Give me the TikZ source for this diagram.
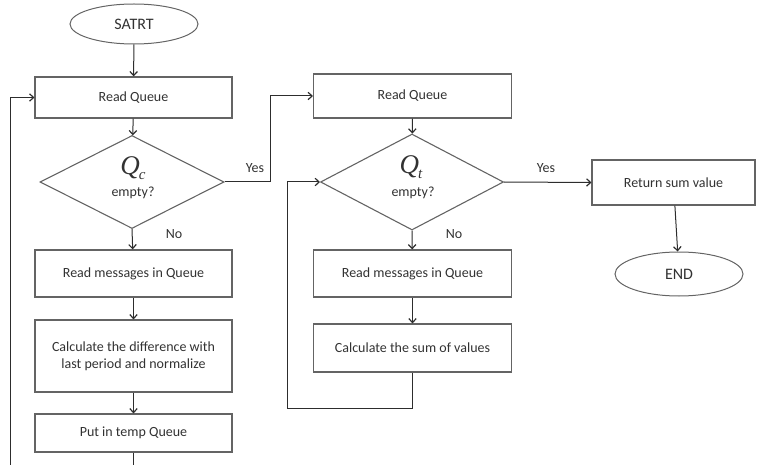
\documentclass[tikz,border=0pt]{standalone}
\usepackage{fontspec}
\setmainfont{Carlito}
\newfontfamily\qserif{Liberation Serif}
\usetikzlibrary{shapes.geometric,arrows.meta}
\definecolor{ink}{RGB}{50,50,50}
\definecolor{frame}{RGB}{100,100,100}
\definecolor{wire}{RGB}{45,45,45}
\newcommand{\qname}[1]{{\qserif\itshape Q\kern-1pt\raisebox{-5pt}{\fontsize{15}{15}\selectfont #1}}}
\begin{document}
\begin{tikzpicture}[x=1pt,y=-1pt,
  txt/.style={font=\fontsize{14}{17}\selectfont, text=ink},
  box/.style={draw=frame, line width=1.2pt, rectangle, inner sep=0pt, align=center, txt},
  term/.style={draw=frame, line width=1pt, ellipse, inner sep=0pt, txt, font=\fontsize{16}{19}\selectfont},
  decide/.style={draw=frame, line width=1.1pt, diamond, inner sep=0pt},
  flow/.style={draw=wire, line width=1pt, -{Straight Barb[length=4pt,width=7.5pt,line width=1.2pt]}},
  plain/.style={draw=wire, line width=1pt},
  qsym/.style={font=\fontsize{27}{28}\selectfont, text=ink},
  tag/.style={txt}
]
\useasboundingbox (0,0) rectangle (757,465);

% left column
\node[term, minimum width=128pt, minimum height=40pt] (start) at (134,24) {SATRT};
\node[box, minimum width=197pt, minimum height=41pt] (rq1) at (133.5,97.5) {Read Queue};
\node[decide, minimum width=184pt, minimum height=93pt] (qc) at (132,182) {};
\node[qsym] (qcq) at (133,168) {\qname{c}};
\node[tag] (qce) at (133,193) {empty?};
\node[box, minimum width=197pt, minimum height=47pt] (rm1) at (133.5,273.5) {Read messages in Queue};
\node[box, minimum width=197pt, minimum height=72pt] (cd) at (133.5,356) {Calculate the difference with\\last period and normalize};
\node[box, minimum width=197pt, minimum height=38pt] (pt) at (133.5,433) {Put in temp Queue};

% middle column
\node[box, minimum width=198pt, minimum height=44pt] (rq2) at (412.5,96) {Read Queue};
\node[decide, minimum width=183pt, minimum height=96pt] (qt) at (412,182) {};
\node[qsym] (qtq) at (411,167) {\qname{t}};
\node[tag] (qte) at (413,193) {empty?};
\node[box, minimum width=198pt, minimum height=47pt] (rm2) at (412.5,273.5) {Read messages in Queue};
\node[box, minimum width=198pt, minimum height=48pt] (cs) at (412.5,348) {Calculate the sum of values};

% right column
\node[box, minimum width=163pt, minimum height=45pt] (rs) at (673.5,182.5) {Return sum value};
\node[term, minimum width=128pt, minimum height=44pt] (fin) at (679,274) {END};

% labels on branches
\node[tag] (yes1) at (255,168) {Yes};
\node[tag] (no1) at (174,234) {No};
\node[tag] (yes2) at (546,168) {Yes};
\node[tag] (no2) at (454,234) {No};

% helper points
\coordinate (out) at (133.5,466);
\coordinate (back) at (10,466);
\coordinate (jog) at (270,182);
\coordinate (loop) at (287,408);

% connectors, left column
\draw[flow] (start) -- (rq1);
\draw[flow] (rq1) -- (qc);
\draw[flow] (qc.south) -- (rm1);
\draw[flow] (rm1) -- (cd);
\draw[flow] (cd) -- (pt);
\draw[plain] (pt.south) -- (out);
\draw[flow] (back) |- (rq1.west);

% connectors, middle and right
\draw[flow] (qc.east) -- (jog) |- (rq2.west);
\draw[flow] (rq2) -- (qt);
\draw[flow] (qt.south) -- (rm2);
\draw[flow] (rm2) -- (cs);
\draw[flow] (cs.south) |- (loop) |- (qt.west);
\draw[flow] (qt.east) -- (rs.west);
\draw[flow] (rs) -- (fin);
\end{tikzpicture}
\end{document}
